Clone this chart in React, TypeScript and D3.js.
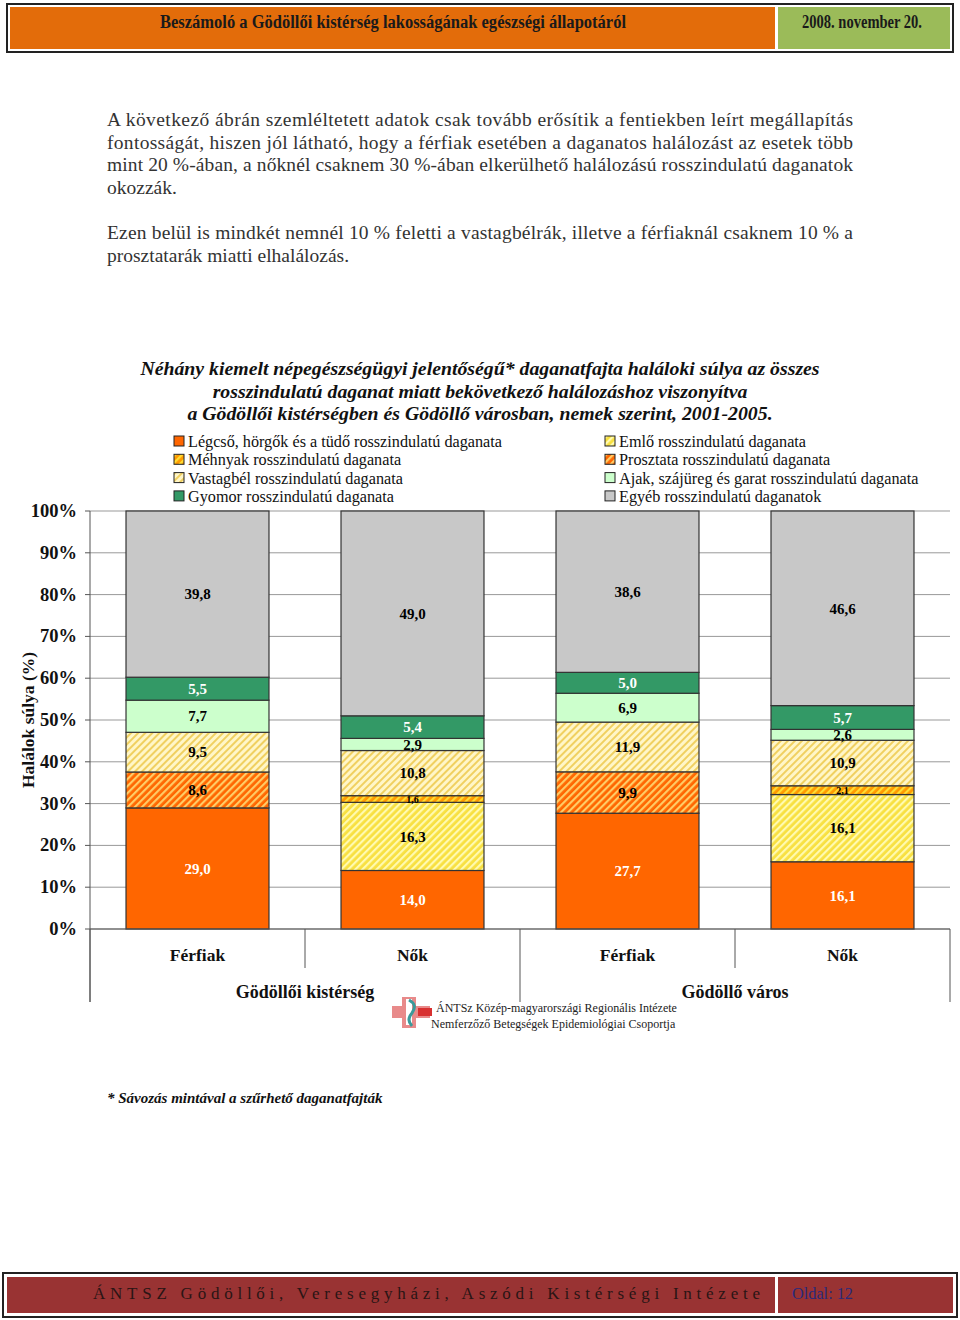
import React from "react";
import * as d3 from "d3";

const categories = ["Férfiak", "Nők", "Férfiak", "Nők"];
const groups = ["Gödöllői kistérség", "Gödöllő város"];
const seriesNames = [
  "Légcső, hörgők és a tüdő rosszindulatú daganata",
  "Emlő rosszindulatú daganata",
  "Méhnyak rosszindulatú daganata",
  "Prosztata rosszindulatú daganata",
  "Vastagbél rosszindulatú daganata",
  "Ajak, szájüreg és garat rosszindulatú daganata",
  "Gyomor rosszindulatú daganata",
  "Egyéb rosszindulatú daganatok",
];
const legcso = [29.0, 14.0, 27.7, 16.1];
const emlo = [0, 16.3, 0, 16.1];
const mehnyak = [0, 1.6, 0, 2.1];
const prosztata = [8.6, 0, 9.9, 0];
const vastagbel = [9.5, 10.8, 11.9, 10.9];
const ajak = [7.7, 2.9, 6.9, 2.6];
const gyomor = [5.5, 5.4, 5.0, 5.7];
const egyeb = [39.8, 49.0, 38.6, 46.6];
const yTicks = [0, 10, 20, 30, 40, 50, 60, 70, 80, 90, 100];

const seriesValues = [legcso, emlo, mehnyak, prosztata, vastagbel, ajak, gyomor, egyeb];

const fills = [
  "#ff6600",
  "url(#pEmlo)",
  "url(#pMeh)",
  "url(#pPros)",
  "url(#pVast)",
  "#ccffcc",
  "#339966",
  "#c8c8c8",
];
const labelColors = ["#ffffff", "#000", "#000", "#000", "#000", "#000", "#ffffff", "#000"];

const paragraph1 = [
  "A következő ábrán szemléltetett adatok csak tovább erősítik a fentiekben leírt megállapítás",
  "fontosságát, hiszen jól látható, hogy a férfiak esetében a daganatos halálozást az esetek több",
  "mint 20 %-ában, a nőknél csaknem 30 %-ában elkerülhető halálozású rosszindulatú daganatok",
  "okozzák.",
];
const paragraph2 = [
  "Ezen belül is mindkét nemnél  10 % feletti a vastagbélrák, illetve a férfiaknál csaknem 10 % a",
  "prosztatarák miatti elhalálozás.",
];
const titleLines = [
  "Néhány kiemelt népegészségügyi jelentőségű* daganatfajta haláloki súlya az összes",
  "rosszindulatú daganat miatt bekövetkező halálozáshoz viszonyítva",
  "a Gödöllői kistérségben és Gödöllő városban, nemek szerint, 2001-2005.",
];

const fmt = (v: number) => v.toFixed(1).replace(".", ",");

function Stripes({ id, base, stripe, w = 2.2 }: { id: string; base: string; stripe: string; w?: number }) {
  return (
    <pattern id={id} patternUnits="userSpaceOnUse" width={5} height={5} patternTransform="rotate(45)">
      <rect width={5} height={5} fill={base} />
      <rect width={w} height={5} fill={stripe} />
    </pattern>
  );
}

export default function App() {
  const left = 90, right = 950, top = 511, bottom = 929;
  const x = d3.scaleBand<number>().domain(d3.range(categories.length)).range([left, right]).padding(0);
  const barW = x.bandwidth() * 0.665;
  const y = d3.scaleLinear().domain([0, 1]).range([bottom, top]);
  const yPct = d3.scaleLinear().domain([0, 100]).range([bottom, top]);

  const rows = categories.map((c, i) => {
    const r: Record<string, number> = {};
    seriesValues.forEach((s, k) => (r["s" + k] = s[i]));
    return r;
  });
  const keys = seriesValues.map((_, k) => "s" + k);
  const stacked = d3.stack<Record<string, number>>().keys(keys).offset(d3.stackOffsetExpand)(rows);

  const serif = "'Liberation Serif', 'Times New Roman', serif";

  const legendOrderCols = [
    [0, 2, 4, 6],
    [1, 3, 5, 7],
  ];
  const legendX = [174, 605];

  return (
    <svg width={960} height={1320} style={{ position: "absolute", left: 0, top: 0, background: "#fff" }} fontFamily={serif}>
      <defs>
        <Stripes id="pEmlo" base="#f8e040" stripe="#fffab0" />
        <Stripes id="pMeh" base="#ff9900" stripe="#ffdd33" />
        <Stripes id="pPros" base="#ff6600" stripe="#ffcc66" />
        <Stripes id="pVast" base="#fff6c8" stripe="#f0d060" w={2} />
      </defs>

      {/* header */}
      <rect x={7} y={4} width={946} height={48} fill="#fff" stroke="#222" strokeWidth={2} />
      <rect x={10} y={7} width={765} height={42} fill="#e36c0a" />
      <rect x={778} y={7} width={172} height={42} fill="#9bbb59" />
      <text x={393} y={28} textAnchor="middle" fontSize={18} fontWeight="bold" fill="#1a1a1a" textLength={466} lengthAdjust="spacingAndGlyphs">
        Beszámoló a Gödöllői kistérség lakosságának egészségi állapotáról
      </text>
      <text x={862} y={28} textAnchor="middle" fontSize={18} fontWeight="bold" fill="#1a1a1a" textLength={120} lengthAdjust="spacingAndGlyphs">
        2008. november 20.
      </text>

      {/* body text */}
      {paragraph1.map((l, i) => (
        <text key={"p1" + i} x={107} y={126 + i * 22.7} fontSize={19.5} fill="#333"
          {...(i < paragraph1.length - 1 ? { textLength: 746, lengthAdjust: "spacing" } : {})}>
          {l}
        </text>
      ))}
      {paragraph2.map((l, i) => (
        <text key={"p2" + i} x={107} y={239 + i * 23} fontSize={19.5} fill="#333"
          {...(i < paragraph2.length - 1 ? { textLength: 746, lengthAdjust: "spacing" } : {})}>
          {l}
        </text>
      ))}

      {/* title */}
      {titleLines.map((l, i) => (
        <text key={"t" + i} x={480} y={375 + i * 22.5} textAnchor="middle" fontSize={19.8} fontWeight="bold" fontStyle="italic" fill="#111">
          {l}
        </text>
      ))}

      {/* legend */}
      {legendOrderCols.map((col, ci) =>
        col.map((s, ri) => (
          <g key={"lg" + s} transform={`translate(${legendX[ci]},${436 + ri * 18.3})`}>
            <rect x={0} y={0} width={10} height={10} fill={fills[s]} stroke="#222" strokeWidth={1} />
            <text x={14} y={11} fontSize={16.2} fill="#111">{seriesNames[s]}</text>
          </g>
        ))
      )}

      {/* gridlines */}
      {yTicks.map((t) => (
        <g key={"g" + t}>
          <line x1={left} x2={right} y1={yPct(t)} y2={yPct(t)} stroke="#999" strokeWidth={1} />
          <line x1={left - 5} x2={left} y1={yPct(t)} y2={yPct(t)} stroke="#555" strokeWidth={1} />
          <text x={77} y={yPct(t) + 6} textAnchor="end" fontSize={18.5} fontWeight="bold" fill="#111">{t}%</text>
        </g>
      ))}
      <line x1={left} x2={left} y1={top} y2={1002} stroke="#555" strokeWidth={1} />

      {/* y title */}
      <text transform={`translate(34,720) rotate(-90)`} textAnchor="middle" fontSize={17.5} fontWeight="bold" fill="#111">
        Halálok súlya (%)
      </text>

      {/* bars */}
      {stacked.map((layer, k) => (
        <g key={"l" + k}>
          {layer.map((d, i) => {
            if (d[1] - d[0] <= 0) return null;
            const bx = (x(i) as number) + (x.bandwidth() - barW) / 2;
            return (
              <rect key={i} x={bx} y={y(d[1])} width={barW} height={y(d[0]) - y(d[1])} fill={fills[k]} stroke="#333" strokeWidth={1.2} />
            );
          })}
        </g>
      ))}
      {stacked.map((layer, k) => (
        <g key={"lab" + k}>
          {layer.map((d, i) => {
            const v = seriesValues[k][i];
            if (!v) return null;
            const cx = (x(i) as number) + x.bandwidth() / 2;
            const cy = (y(d[0]) + y(d[1])) / 2;
            const small = v < 2.5;
            const fs = small ? 10 : 15;
            return (
              <text key={i} x={cx} y={cy + fs * 0.35} textAnchor="middle" fontSize={fs} fontWeight="bold" fill={labelColors[k]}>
                {fmt(v)}
              </text>
            );
          })}
        </g>
      ))}

      {/* x axis */}
      <line x1={left} x2={right} y1={bottom} y2={bottom} stroke="#555" strokeWidth={1} />
      {d3.range(categories.length + 1).map((i) => {
        const xx = left + i * x.step();
        const long = i % 2 === 0;
        return <line key={"xt" + i} x1={xx} x2={xx} y1={bottom} y2={long ? 1002 : 968} stroke="#555" strokeWidth={1} />;
      })}
      {categories.map((c, i) => (
        <text key={"c" + i} x={(x(i) as number) + x.bandwidth() / 2} y={961} textAnchor="middle" fontSize={17.5} fontWeight="bold" fill="#111">
          {c}
        </text>
      ))}
      {groups.map((g, i) => (
        <text key={"gr" + i} x={left + (i * 2 + 1) * x.step()} y={998} textAnchor="middle" fontSize={18} fontWeight="bold" fill="#111">
          {g}
        </text>
      ))}

      {/* logo */}
      <g>
        <rect x={392} y={1006} width={38} height={12} fill="#e88a8a" />
        <rect x={402} y={997} width={14} height={31} fill="#e88a8a" />
        <rect x={406} y={999} width={6} height={26} fill="#ffffff" />
        <path d="M409,1000 Q418,1005 412,1013 Q406,1020 412,1026" stroke="#3a9a9a" strokeWidth={3} fill="none" />
        <rect x={418} y={1008} width={14} height={8} fill="#d83030" />
      </g>
      <text x={436} y={1012} fontSize={12} fill="#222">ÁNTSz Közép-magyarországi Regionális Intézete</text>
      <text x={431} y={1028} fontSize={12} fill="#222">Nemferzőző Betegségek Epidemiológiai Csoportja</text>

      {/* footnote */}
      <text x={107} y={1103} fontSize={15} fontWeight="bold" fontStyle="italic" fill="#111">* Sávozás mintával a szűrhető daganatfajták</text>

      {/* footer */}
      <rect x={3} y={1273} width={954} height={44} fill="#fff" stroke="#222" strokeWidth={2} />
      <rect x={7} y={1277} width={768} height={36} fill="#993333" />
      <rect x={778} y={1277} width={175} height={36} fill="#993333" />
      <text x={93} y={1299} fontSize={17} fill="#2a1515" textLength={667} lengthAdjust="spacing">
        ÁNTSZ Gödöllői, Veresegyházi, Aszódi Kistérségi Intézete
      </text>
      <text x={792} y={1299} fontSize={16} fill="#2a2a7a" textLength={61} lengthAdjust="spacingAndGlyphs">Oldal: 12</text>
    </svg>
  );
}
